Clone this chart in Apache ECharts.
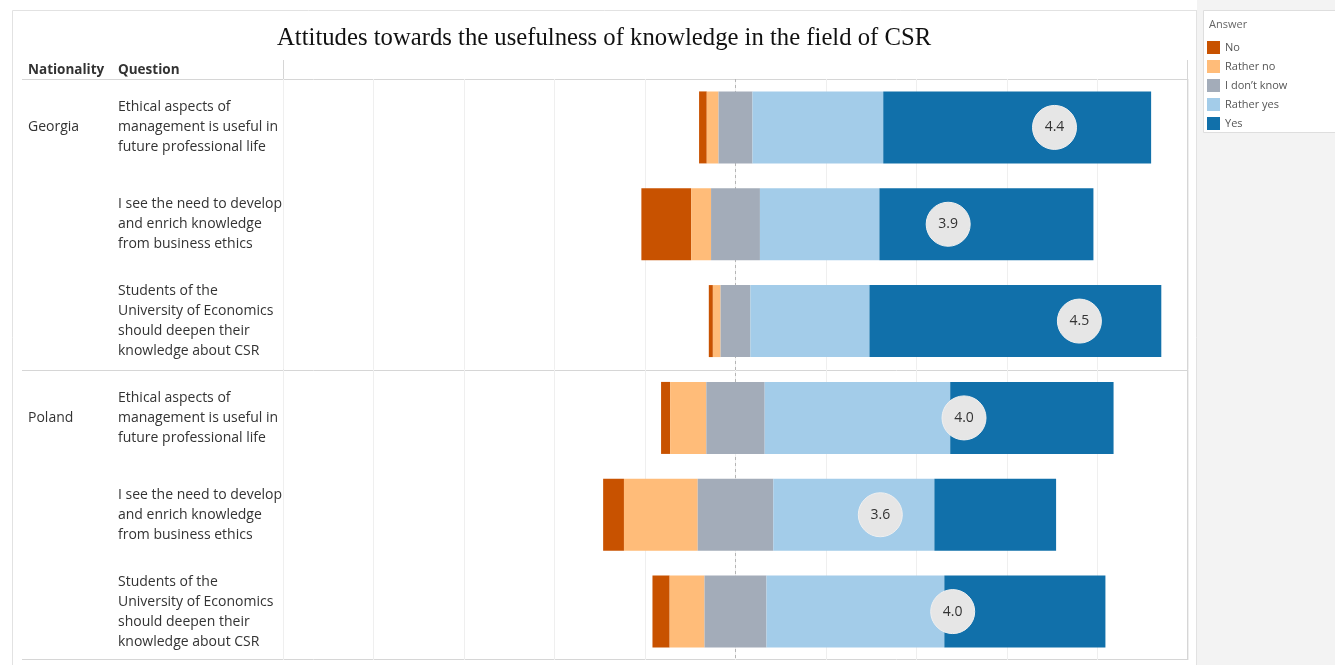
<!DOCTYPE html>
<html>
<head>
<meta charset="utf-8">
<script src="https://cdn.jsdelivr.net/npm/echarts@6/dist/echarts.min.js"></script>
<style>
html, body { margin: 0; padding: 0; background: #fff; }
#csr-chart { width: 1335px; height: 665px; }
</style>
</head>
<body>
<div id="csr-chart"></div>
<script>
// survey data (share of answers in %)
const nationalities = ['Georgia', 'Poland'];
const questions = [
    'Ethical aspects of\nmanagement is useful in\nfuture professional life',
    'I see the need to develop\nand enrich knowledge\nfrom business ethics',
    'Students of the\nUniversity of Economics\nshould deepen their\nknowledge about CSR'
];
const answers = ['No', 'Rather no', 'I don\u2019t know', 'Rather yes', 'Yes'];
const colors = ['#c85200', '#ffbc79', '#a3acb9', '#a3cce9', '#1170aa'];

// rows: Georgia q1..q3, Poland q1..q3
const noShare = [1.7, 11.0, 0.9, 2.0, 4.6, 3.8];
const ratherNoShare = [2.6, 4.4, 1.7, 8.0, 16.3, 7.7];
const dontKnowShare = [7.5, 10.8, 6.6, 12.9, 16.7, 13.7];
const ratherYesShare = [28.9, 26.4, 26.3, 41.0, 35.6, 39.3];
const yesShare = [59.2, 47.3, 64.5, 36.1, 26.9, 35.6];
const meanScores = [4.41, 3.94, 4.52, 4.01, 3.64, 3.96];

const rowLabels = [];
nationalities.forEach(n => questions.forEach(q => rowLabels.push(q)));

const shares = [noShare, ratherNoShare, dontKnowShare, ratherYesShare, yesShare];
// bars are centred on the middle of "I don't know"
const offsets = noShare.map((v, i) => -(v + ratherNoShare[i] + dontKnowShare[i] / 2));

const labelFont = '"Open Sans", "DejaVu Sans", sans-serif';
const lineColor = '#d6d6d6';

let myChart = echarts.init(document.getElementById('csr-chart'));

let series = [{
    name: 'offset',
    type: 'bar',
    stack: 'total',
    stackStrategy: 'all',
    barWidth: 72,
    silent: true,
    z: 1,
    itemStyle: { color: 'rgba(0,0,0,0)' },
    data: offsets,
    markLine: {
        silent: true,
        symbol: 'none',
        z: 1,
        label: { show: false },
        lineStyle: { type: [3, 3], color: '#b5b5b5', width: 1 },
        data: [{ xAxis: 0 }]
    }
}];
answers.forEach((a, k) => {
    series.push({
        name: a,
        type: 'bar',
        stack: 'total',
        stackStrategy: 'all',
        barWidth: 72,
        z: 2,
        itemStyle: { color: colors[k] },
        data: shares[k]
    });
});
series.push({
    name: 'mean',
    type: 'scatter',
    symbolSize: 44,
    z: 3,
    itemStyle: { color: '#e6e6e6', opacity: 1, borderColor: '#f0f0f0', borderWidth: 1 },
    label: {
        show: true,
        position: 'inside',
        color: '#333',
        fontSize: 14,
        fontFamily: labelFont,
        formatter: p => meanScores[p.dataIndex].toFixed(1)
    },
    data: meanScores.map((m, i) => [(m - 3) * 50, i])
});

let option = {
    animation: false,
    title: {
        text: 'Attitudes towards the usefulness of knowledge in the field of CSR',
        left: 277,
        top: 26,
        padding: 0,
        textStyle: {
            fontFamily: '"Liberation Serif", serif',
            fontWeight: 'normal',
            fontSize: 24.7,
            color: '#111'
        }
    },
    legend: {
        data: answers,
        orient: 'vertical',
        left: 1207,
        top: 41,
        padding: 0,
        itemWidth: 13,
        itemHeight: 13,
        itemGap: 6,
        icon: 'rect',
        textStyle: { fontSize: 11, color: '#555', fontFamily: labelFont }
    },
    grid: { left: 283, right: 147, top: 79, bottom: 5 },
    xAxis: {
        type: 'value',
        min: -100,
        max: 100,
        interval: 20,
        axisLabel: { show: false },
        axisLine: { show: false },
        axisTick: { show: false },
        splitLine: { lineStyle: { color: '#efefef' } }
    },
    yAxis: [{
        type: 'category',
        inverse: true,
        data: rowLabels,
        axisLine: { show: false },
        axisTick: { show: false },
        axisLabel: {
            interval: 0,
            align: 'left',
            margin: 165,
            padding: [4, 0, 0, 0],
            color: '#333',
            fontSize: 14,
            lineHeight: 20,
            fontFamily: labelFont
        }
    }, {
        type: 'category',
        inverse: true,
        position: 'left',
        data: rowLabels,
        axisLine: { show: false },
        axisTick: { show: false },
        axisLabel: {
            interval: 0,
            align: 'left',
            margin: 255,
            padding: [2, 0, 0, 0],
            color: '#333',
            fontSize: 14,
            fontFamily: labelFont,
            formatter: (v, i) => (i % questions.length === 0 ? nationalities[i / questions.length] : '')
        }
    }],
    graphic: [
        // right grey panel and legend box
        { type: 'rect', z: 0, shape: { x: 1197, y: 0, width: 138, height: 665 }, style: { fill: '#f3f3f3' } },
        { type: 'rect', z: 0, shape: { x: 1203.5, y: 10.5, width: 140, height: 122 }, style: { fill: '#fff', stroke: '#dedede' } },
        { type: 'text', z: 1, left: 1209, top: 19, style: { text: 'Answer', fontSize: 11, fill: '#666', fontFamily: labelFont } },
        // worksheet frame
        { type: 'line', z: 0, shape: { x1: 12.5, y1: 10.5, x2: 1197, y2: 10.5 }, style: { stroke: '#e2e2e2' } },
        { type: 'line', z: 0, shape: { x1: 12.5, y1: 10.5, x2: 12.5, y2: 665 }, style: { stroke: '#e2e2e2' } },
        { type: 'line', z: 0, shape: { x1: 1196.5, y1: 10.5, x2: 1196.5, y2: 665 }, style: { stroke: '#e2e2e2' } },
        // table rules
        { type: 'line', z: 0, shape: { x1: 22, y1: 79.5, x2: 1188, y2: 79.5 }, style: { stroke: lineColor } },
        { type: 'line', z: 0, shape: { x1: 22, y1: 370.5, x2: 1188, y2: 370.5 }, style: { stroke: lineColor } },
        { type: 'line', z: 0, shape: { x1: 22, y1: 659.5, x2: 1188, y2: 659.5 }, style: { stroke: lineColor } },
        { type: 'line', z: 0, shape: { x1: 283.5, y1: 60, x2: 283.5, y2: 660 }, style: { stroke: lineColor } },
        { type: 'line', z: 0, shape: { x1: 1187.5, y1: 60, x2: 1187.5, y2: 660 }, style: { stroke: lineColor } },
        // column headers
        { type: 'text', left: 28, top: 63, style: { text: 'Nationality', fontSize: 13.5, fontWeight: 'bold', fill: '#333', fontFamily: labelFont } },
        { type: 'text', left: 118, top: 63, style: { text: 'Question', fontSize: 13.5, fontWeight: 'bold', fill: '#333', fontFamily: labelFont } }
    ],
    series: series
};

myChart.setOption(option);
</script>
</body>
</html>
